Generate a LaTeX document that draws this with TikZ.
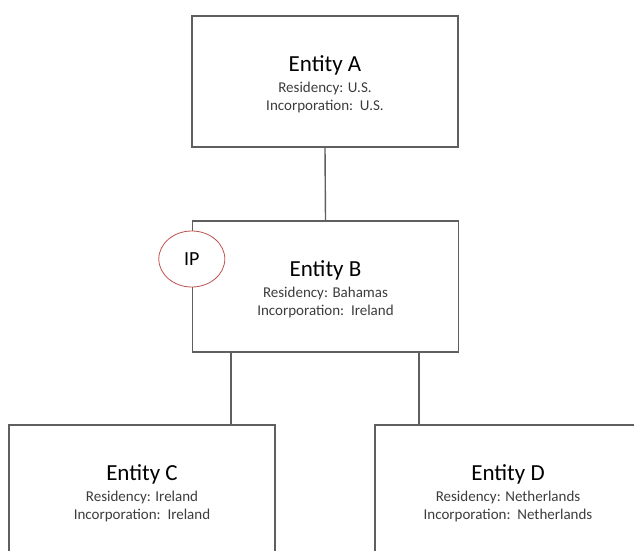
\documentclass[tikz,border=0pt]{standalone}
\usepackage{fontspec}
\setmainfont{Carlito}
\usepackage{tikz}
\usetikzlibrary{calc}
\usetikzlibrary{shapes}
\definecolor{boxgray}{RGB}{95,95,95}
\definecolor{ipred}{RGB}{192,80,77}
\definecolor{subgray}{RGB}{60,60,60}
\tikzset{entity/.style={draw=boxgray, line width=1.4pt, minimum width=266pt, minimum height=131pt, inner sep=0pt, align=center, font=\fontsize{15}{18}\selectfont, text=subgray}}
\tikzset{link/.style={draw=boxgray, line width=1.4pt}}
\newcommand{\entity}[6]{\node[entity] (#1) at ( #2 , #3 ) {{\fontsize{23}{23}\selectfont\color{black}\rule{0pt}{21pt}Entity #4}\\[3pt] Residency: #5\\ Incorporation:\ \ #6};}

\begin{document}
\begin{tikzpicture}[x=1pt,y=1pt]
\clip (0,0) rectangle (634,-551);
% top row
\entity{A}{325}{-81.5}{A}{U.S.}{U.S.}
% middle row
\entity{B}{325.5}{-286.5}{B}{Bahamas}{Ireland}
% bottom row
\entity{C}{142}{-490.5}{C}{Ireland}{Ireland}
\entity{D}{508}{-490.5}{D}{Netherlands}{Netherlands}
% connectors
\coordinate (bc) at ($(B.south west)+(39,0)$);
\coordinate (bd) at ($(B.south west)+(227,0)$);
\draw[link] (A.south) -- (B.north);
\draw[link] (bc) -- (bc |- C.north);
\draw[link] (bd) -- (bd |- D.north);
% IP marker
\node[ellipse, draw=ipred, fill=white, line width=0.8pt, minimum width=66pt, minimum height=56pt, font=\fontsize{20}{20}\selectfont] (ip) at ($(B.west)+(0,27.5)$) {IP};
\end{tikzpicture}
\end{document}
